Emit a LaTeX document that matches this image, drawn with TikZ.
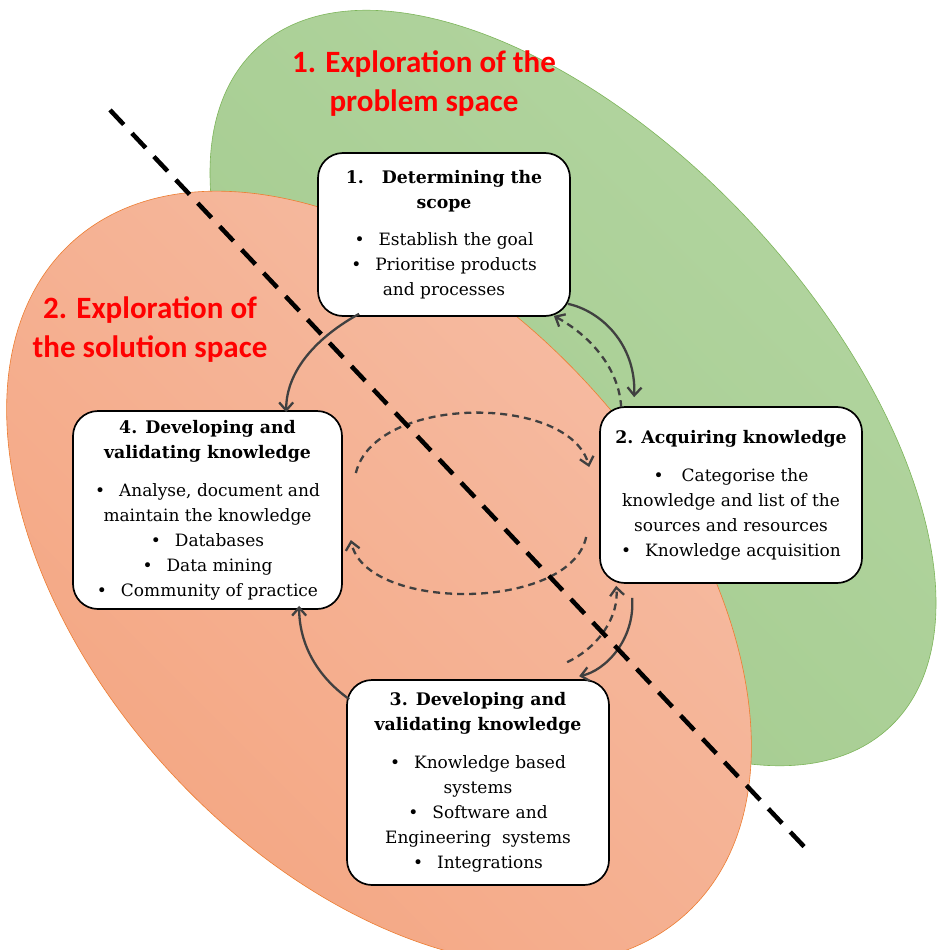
\documentclass[tikz,border=0pt]{standalone}
\usepackage{fontspec}
\setmainfont{DejaVu Serif}
\newfontfamily\titlefont{Carlito}
\usetikzlibrary{arrows.meta,calc}
\definecolor{greenlight}{HTML}{B4D6A2}
\definecolor{greendark}{HTML}{A2CA8C}
\definecolor{greenedge}{HTML}{7DB55A}
\definecolor{orangelight}{HTML}{F6BEA6}
\definecolor{orangedark}{HTML}{F4A47F}
\definecolor{orangeedge}{HTML}{ED7D31}
\definecolor{arrowgray}{HTML}{404040}
\newcommand{\hdline}[1]{\textbf{\fontsize{17.3}{25}\selectfont #1}}
\begin{document}
\begin{tikzpicture}[x=1pt,y=1pt,
 box/.style={draw=black, line width=1.7pt, fill=white, rounded corners=25pt, align=center,
   font=\fontsize{17}{25}\selectfont, inner sep=0pt},
 title/.style={text=red, font=\titlefont\bfseries\fontsize{31}{39}\selectfont, align=center},
 flow/.style={draw=arrowgray, line width=2.3pt, -{Straight Barb[length=8pt,width=14pt]}},
 flowdash/.style={flow, dash pattern=on 7pt off 5pt},
 divider/.style={line width=4.5pt, dash pattern=on 20pt off 12pt}]
\useasboundingbox[fill=white] (0,0) rectangle (937,-950);
% regions
\shade[top color=greenlight, bottom color=greendark, shading angle=-45,
  rotate around={-47:(573,-388)}] (573,-388) ellipse [x radius=464, y radius=243];
\draw[greenedge, line width=0.6pt, rotate around={-47:(573,-388)}]
  (573,-388) ellipse [x radius=464, y radius=243];
\shade[top color=orangelight, bottom color=orangedark, shading angle=-45,
  rotate around={-47.5:(379,-578)}] (379,-578) ellipse [x radius=455, y radius=285];
\draw[orangeedge, line width=0.6pt, rotate around={-47.5:(379,-578)}]
  (379,-578) ellipse [x radius=455, y radius=285];
% titles
\node[title] (t1) at (424,-84) {1. Exploration of the\\problem space};
\node[title] (t2) at (150,-330) {2. Exploration of\\the solution space};
% boxes
\node[box, minimum width=252pt, minimum height=163pt] (b1) at (444,-234.5)
 {\hdline{1.\hspace{18pt}Determining the}\\ \hdline{scope}\\[12pt]
  \textbullet\hspace{14pt}Establish the goal\\ \textbullet\hspace{14pt}Prioritise products\\ and processes};
\node[box, minimum width=262pt, minimum height=176pt] (b2) at (731,-495)
 {\hdline{2. Acquiring knowledge}\\[13pt]
  \textbullet\hspace{18pt}Categorise the\\ knowledge and list of the\\ sources and resources\\
  \textbullet\hspace{14pt}Knowledge acquisition};
\node[box, minimum width=262pt, minimum height=205pt] (b3) at (478,-782.5)
 {\hdline{3. Developing and}\\ \hdline{validating knowledge}\\[13pt]
  \textbullet\hspace{14pt}Knowledge based\\ systems\\ \textbullet\hspace{14pt}Software and\\
  Engineering\ \ systems\\ \textbullet\hspace{14pt}Integrations};
\node[box, minimum width=269pt, minimum height=198pt] (b4) at (207.5,-510)
 {\hdline{4. Developing and}\\ \hdline{validating knowledge}\\[13pt]
  \textbullet\hspace{14pt}Analyse, document and\\ maintain the knowledge\\
  \textbullet\hspace{14pt}Databases\\ \textbullet\hspace{14pt}Data mining\\
  \textbullet\hspace{14pt}Community of practice};
% connector end points
\coordinate (a1s) at ($(b1.south west)+(42,3)$);
\coordinate (a1e) at ($(b4.north west)+(214,-2)$);
\coordinate (a2s) at ($(b1.south east)+(-3,13)$);
\coordinate (a2e) at ($(b2.north west)+(35,9)$);
\coordinate (a3s) at ($(b2.north west)+(22,-1)$);
\coordinate (a3e) at ($(b1.south east)+(-17,1)$);
\coordinate (a4s) at ($(b2.south west)+(33,-14)$);
\coordinate (a4e) at ($(b3.north west)+(233,3)$);
\coordinate (a5s) at ($(b3.north west)+(221,17)$);
\coordinate (a5e) at ($(b2.south west)+(17,-2)$);
\coordinate (a6s) at ($(b3.north west)+(3,-20)$);
\coordinate (a6e) at ($(b4.south west)+(227,4)$);
\coordinate (a7s) at ($(b4.east)+(13,37)$);
\coordinate (a7e) at ($(b2.west)+(-10,28)$);
\coordinate (a8s) at ($(b2.west)+(-13,-42)$);
\coordinate (a8e) at ($(b4.east)+(8,-30)$);
% connectors
\draw[flow] (a1s) .. controls ($(a1s)+(-40,-22)$) and ($(a1e)+(0,43)$) .. (a1e);
\draw[flow] (a2s) .. controls ($(a2s)+(33,-7)$) and ($(a2e)+(2,53)$) .. (a2e);
\draw[flowdash] (a3s) .. controls ($(a3s)+(-2,38)$) and ($(a3e)+(37,-20)$) .. (a3e);
\draw[flow] (a4s) .. controls ($(a4s)+(3,-43)$) and ($(a4e)+(25,5)$) .. (a4e);
\draw[flowdash] (a5s) .. controls ($(a5s)+(32,15)$) and ($(a5e)+(3,-30)$) .. (a5e);
\draw[flow] (a6s) .. controls ($(a6s)+(-35,25)$) and ($(a6e)+(0,-35)$) .. (a6e);
\draw[flowdash] (a7s) .. controls (375,-394) and (570,-394) .. (a7e);
\draw[flowdash] (a8s) .. controls (570,-612) and (365,-612) .. (a8e);
% divider
\coordinate (d1) at (110,-110);
\coordinate (d2) at (812,-855);
\draw[divider] (d1) -- (d2);
\end{tikzpicture}
\end{document}
